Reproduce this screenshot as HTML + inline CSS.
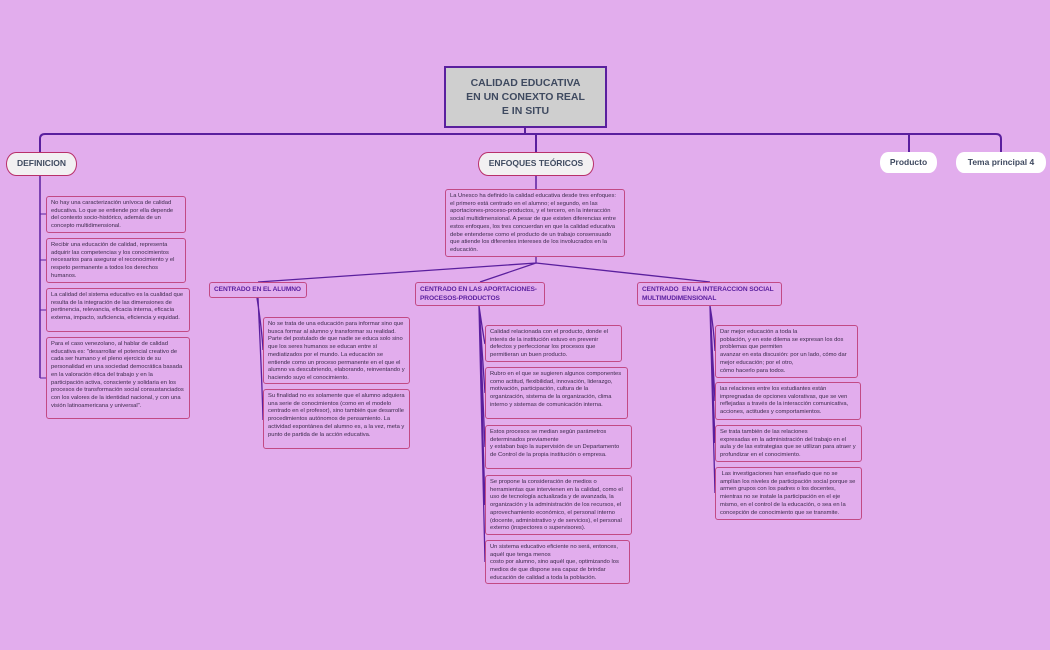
<!DOCTYPE html>
<html><head><meta charset="utf-8"><style>
body{margin:0;width:1050px;height:650px;background:#e2aded;position:relative;overflow:hidden;font-family:"Liberation Sans",sans-serif}
.b{position:absolute;box-sizing:border-box;border:1.3px solid #c24a85;border-radius:3px;padding:3px 4px;font-size:5.8px;line-height:7.7px;color:#3a2a4a}
.h{position:absolute;box-sizing:border-box;border:1.3px solid #c24a85;border-radius:3px;padding:3px 4px;font-size:6.6px;line-height:9px;font-weight:bold;color:#5a1f9e;white-space:nowrap;letter-spacing:-0.1px}
.t{position:absolute;box-sizing:border-box;background:#f2f0f2;border:1.5px solid #b8306a;border-radius:10px/12px;font-weight:bold;color:#3f4a60;font-size:8.5px;text-align:center}
.w{position:absolute;background:#fff;border-radius:8px/10px;font-weight:bold;color:#3f4a60;font-size:8.5px;text-align:center;line-height:21px}
svg{position:absolute;left:0;top:0}
</style></head><body>
<svg width="1050" height="650" fill="none" stroke="#5a1f9e" stroke-width="2">
<path d="M525 128V134M40 152V139Q40 134 45 134H996Q1001 134 1001 139V152M536 134V152M909 134V152"/>
<path d="M536 176V189M40 176V378" stroke-width="1.5"/>
<path d="M40 214H46M40 260H46M40 310H46M40 378H46" stroke-width="1"/>
<path d="M536 257V263M536 263L258 282M536 263L480 282M536 263L710 282" stroke-width="1.3"/>
<path d="M257 298Q262 330 263 350M258 298Q262 380 263 420" stroke-width="1.3"/>
<path d="M479 306Q484 340 485 344M479 306Q484 380 485 393M479 306Q484 420 485 447M479 306Q484 470 485 505M479 306Q484 540 485 562" stroke-width="1.3"/>
<path d="M710 306Q714 330 715 351M710 306Q714 380 715 401M710 306Q714 420 715 443M710 306Q714 470 715 493" stroke-width="1.3"/>
</svg>
<div style="position:absolute;left:444px;top:66px;width:163px;height:62px;box-sizing:border-box;background:#cfcfcf;border:2px solid #5a1f9e;font-weight:bold;font-size:10.5px;line-height:14px;color:#3f4a60;text-align:center;padding-top:8px">CALIDAD EDUCATIVA<br>EN UN CONEXTO REAL<br>E IN SITU</div>
<div class="t" style="left:6px;top:152px;width:71px;height:24px;line-height:21px">DEFINICION</div>
<div class="t" style="left:478px;top:152px;width:116px;height:24px;line-height:21px">ENFOQUES TEÓRICOS</div>
<div class="w" style="left:880px;top:152px;width:57px;height:21px">Producto</div>
<div class="w" style="left:956px;top:152px;width:90px;height:21px">Tema principal 4</div>

<div class="b" style="left:46px;top:196px;width:140px;height:37px">No hay una caracterización unívoca de calidad educativa. Lo que se entiende por ella depende del contexto socio-histórico, además de un concepto multidimensional.</div>
<div class="b" style="left:46px;top:238px;width:140px;height:45px">Recibir una educación de calidad, representa adquirir las competencias y los conocimientos necesarios para asegurar el reconocimiento y el respeto permanente a todos los derechos humanos.</div>
<div class="b" style="left:46px;top:288px;width:144px;height:44px">La calidad del sistema educativo es la cualidad que resulta de la integración de las dimensiones de pertinencia, relevancia, eficacia interna, eficacia externa, impacto, suficiencia, eficiencia y equidad.</div>
<div class="b" style="left:46px;top:337px;width:144px;height:82px">Para el caso venezolano, al hablar de calidad educativa es: "desarrollar el potencial creativo de cada ser humano y el pleno ejercicio de su personalidad en una sociedad democrática basada en la valoración ética del trabajo y en la participación activa, consciente y solidaria en los procesos de transformación social consustanciados con los valores de la identidad nacional, y con una visión latinoamericana y universal".</div>

<div class="b" style="left:445px;top:189px;width:180px;height:68px">La Unesco ha definido la calidad educativa desde tres enfoques: el primero está centrado en el alumno; el segundo, en las aportaciones-proceso-productos, y el tercero, en la interacción social multidimensional. A pesar de que existen diferencias entre estos enfoques, los tres concuerdan en que la calidad educativa debe entenderse como el producto de un trabajo consensuado que atiende los diferentes intereses de los involucrados en la educación.</div>

<div class="h" style="left:209px;top:282px;width:98px;height:16px;padding-top:2px">CENTRADO EN EL ALUMNO</div>
<div class="h" style="left:415px;top:282px;width:130px;height:24px;padding-top:2px">CENTRADO EN LAS APORTACIONES-<br>PROCESOS-PRODUCTOS</div>
<div class="h" style="left:637px;top:282px;width:145px;height:24px;padding-top:2px">CENTRADO &nbsp;EN LA INTERACCION SOCIAL<br>MULTIMUDIMENSIONAL</div>

<div class="b" style="left:263px;top:317px;width:147px;height:67px">No se trata de una educación para informar sino que busca formar al alumno y transformar su realidad. Parte del postulado de que nadie se educa solo sino que los seres humanos se educan entre sí mediatizados por el mundo. La educación se entiende como un proceso permanente en el que el alumno va descubriendo, elaborando, reinventando y haciendo suyo el conocimiento.</div>
<div class="b" style="left:263px;top:389px;width:147px;height:60px">Su finalidad no es solamente que el alumno adquiera una serie de conocimientos (como en el modelo centrado en el profesor), sino también que desarrolle procedimientos autónomos de pensamiento. La actividad espontánea del alumno es, a la vez, meta y punto de partida de la acción educativa.</div>

<div class="b" style="left:485px;top:325px;width:137px;height:37px">Calidad relacionada con el producto, donde el interés de la institución estuvo en prevenir defectos y perfeccionar los procesos que permitieran un buen producto.</div>
<div class="b" style="left:485px;top:367px;width:143px;height:52px">Rubro en el que se sugieren algunos componentes como actitud, flexibilidad, innovación, liderazgo, motivación, participación, cultura de la organización, sistema de la organización, clima interno y sistemas de comunicación interna.</div>
<div class="b" style="left:485px;top:425px;width:147px;height:44px">Estos procesos se median según parámetros determinados previamente<br>y estaban bajo la supervisión de un Departamento de Control de la propia institución o empresa.</div>
<div class="b" style="left:485px;top:475px;width:147px;height:60px">Se propone la consideración de medios o herramientas que intervienen en la calidad, como el uso de tecnología actualizada y de avanzada, la organización y la administración de los recursos, el aprovechamiento económico, el personal interno (docente, administrativo y de servicios), el personal externo (inspectores o supervisores).</div>
<div class="b" style="left:485px;top:540px;width:145px;height:44px">Un sistema educativo eficiente no será, entonces, aquél que tenga menos<br>costo por alumno, sino aquél que, optimizando los medios de que dispone sea capaz de brindar educación de calidad a toda la población.</div>

<div class="b" style="left:715px;top:325px;width:143px;height:53px">Dar mejor educación a toda la<br>población, y en este dilema se expresan los dos problemas que permiten<br>avanzar en esta discusión: por un lado, cómo dar mejor educación; por el otro,<br>cómo hacerlo para todos.</div>
<div class="b" style="left:715px;top:382px;width:146px;height:38px">las relaciones entre los estudiantes están impregnadas de opciones valorativas, que se ven reflejadas a través de la interacción comunicativa, acciones, actitudes y comportamientos.</div>
<div class="b" style="left:715px;top:425px;width:147px;height:37px">Se trata también de las relaciones<br>expresadas en la administración del trabajo en el aula y de las estrategias que se utilizan para atraer y profundizar en el conocimiento.</div>
<div class="b" style="left:715px;top:467px;width:147px;height:53px">&nbsp;Las investigaciones han enseñado que no se amplían los niveles de participación social porque se armen grupos con los padres o los docentes, mientras no se instale la participación en el eje mismo, en el control de la educación, o sea en la concepción de conocimiento que se transmite.</div>
</body></html>
